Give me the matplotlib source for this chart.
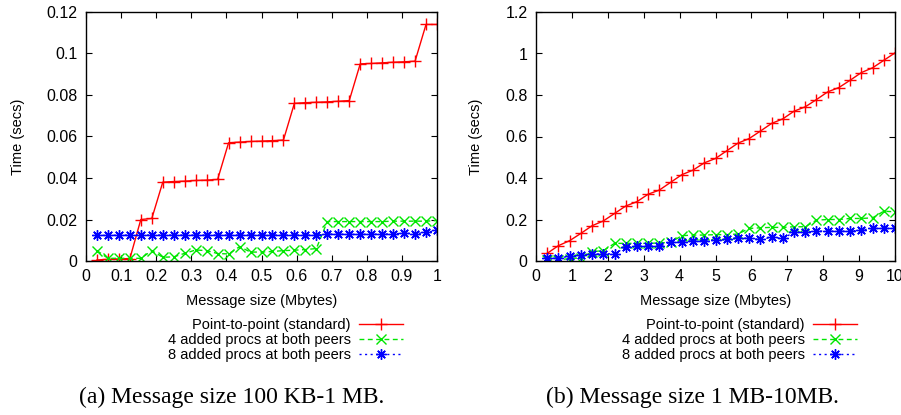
import numpy as np
import matplotlib
matplotlib.use("Agg")
import matplotlib.pyplot as plt
from matplotlib.ticker import FuncFormatter

# ---------------- data ----------------
k = np.arange(1, 33)
x_small = k / 32.0            # Mbytes, 100KB-1MB panel
x_large = k * 10.0 / 32.0     # Mbytes, 1MB-10MB panel

p2p_small = [0.0005, 0.0008, 0.0010, 0.0012, 0.0200, 0.0205, 0.0380, 0.0383,
             0.0385, 0.0388, 0.0390, 0.0393, 0.0570, 0.0573, 0.0576, 0.0578,
             0.0580, 0.0583, 0.0760, 0.0763, 0.0765, 0.0767, 0.0770, 0.0773,
             0.0950, 0.0952, 0.0955, 0.0958, 0.0960, 0.0963, 0.1140, 0.1140]
four_small = [0.0050, 0.0013, 0.0013, 0.0013, 0.0013, 0.0050, 0.0018, 0.0020,
              0.0037, 0.0053, 0.0050, 0.0036, 0.0034, 0.0069, 0.0043, 0.0043,
              0.0046, 0.0050, 0.0052, 0.0055, 0.0060, 0.0190, 0.0190, 0.0190,
              0.0190, 0.0190, 0.0190, 0.0192, 0.0192, 0.0192, 0.0192, 0.0195]
eight_small = [0.0124, 0.0123, 0.0125, 0.0125, 0.0125, 0.0125, 0.0125, 0.0125,
               0.0125, 0.0125, 0.0125, 0.0125, 0.0125, 0.0125, 0.0125, 0.0125,
               0.0125, 0.0125, 0.0125, 0.0125, 0.0125, 0.0130, 0.0130, 0.0128,
               0.0129, 0.0129, 0.0130, 0.0131, 0.0134, 0.0131, 0.0138, 0.0148]

p2p_large = [0.037, 0.074, 0.098, 0.133, 0.170, 0.193, 0.229, 0.265,
             0.286, 0.322, 0.342, 0.379, 0.416, 0.438, 0.473, 0.494,
             0.531, 0.568, 0.590, 0.626, 0.663, 0.685, 0.722, 0.743,
             0.778, 0.815, 0.836, 0.871, 0.908, 0.931, 0.967, 1.003]
four_large = [0.005, 0.005, 0.012, 0.015, 0.045, 0.050, 0.085, 0.085,
              0.085, 0.085, 0.087, 0.090, 0.122, 0.125, 0.125, 0.127,
              0.127, 0.130, 0.157, 0.160, 0.162, 0.162, 0.165, 0.165,
              0.197, 0.200, 0.200, 0.205, 0.205, 0.208, 0.240, 0.237]
eight_large = [0.013, 0.013, 0.024, 0.027, 0.034, 0.034, 0.035, 0.066,
               0.072, 0.072, 0.072, 0.090, 0.093, 0.098, 0.098, 0.100,
               0.104, 0.112, 0.109, 0.104, 0.114, 0.109, 0.138, 0.138,
               0.144, 0.144, 0.144, 0.144, 0.149, 0.157, 0.157, 0.157]

labels = ["Point-to-point (standard)",
          "4 added procs at both peers",
          "8 added procs at both peers"]
captions = ["(a) Message size 100 KB-1 MB.", "(b) Message size 1 MB-10MB."]

small_xticks = [0, 0.1, 0.2, 0.3, 0.4, 0.5, 0.6, 0.7, 0.8, 0.9, 1]
small_yticks = [0, 0.02, 0.04, 0.06, 0.08, 0.1, 0.12]
large_xticks = [0, 1, 2, 3, 4, 5, 6, 7, 8, 9, 10]
large_yticks = [0, 0.2, 0.4, 0.6, 0.8, 1, 1.2]

# ---------------- figure ----------------
W, H = 901, 415
plt.rcParams['font.family'] = ['Liberation Sans', 'DejaVu Sans']
fig = plt.figure(figsize=(W / 100, H / 100), dpi=100)

def px_axes(x0, x1, y0, y1):
    return fig.add_axes([x0 / W, 1 - y1 / H, (x1 - x0) / W, (y1 - y0) / H])

ax1 = px_axes(86, 437, 12, 261)
ax2 = px_axes(536, 895, 12, 261)

fmt = FuncFormatter(lambda v, p: "%g" % round(v, 6))

styles = [
    dict(color=(1, 0, 0), ls='-', marker='+', ms=8, mew=1.0, lw=1.0),
    dict(color=(0, 0.9, 0), ls=(0, (3.5, 2.5)), marker='x', ms=6.5, mew=1.0, lw=1.0),
    dict(color=(0, 0, 1), ls=(0, (1.5, 2.5)), marker=(8, 2, 0), ms=7.5, mew=1.0, lw=1.0),
]

panels = [
    (ax1, x_small, [p2p_small, four_small, eight_small], small_xticks, small_yticks,
     (0, 1), (0, 0.12), 351, 232, captions[0], 25),
    (ax2, x_large, [p2p_large, four_large, eight_large], large_xticks, large_yticks,
     (0, 10), (0, 1.2), 805, 692, captions[1], 483),
]

for ax, xs, ys, xt, yt, xl, yl, leg_right, cap_x, cap, ylab_x in panels:
    handles = []
    for yv, st, lab in zip(ys, styles, labels):
        h, = ax.plot(xs, yv, label=lab, clip_on=True, **st)
        handles.append(h)
    ax.set_xlim(*xl)
    ax.set_ylim(*yl)
    ax.set_xticks(xt)
    ax.set_yticks(yt)
    ax.xaxis.set_major_formatter(fmt)
    ax.yaxis.set_major_formatter(fmt)
    ax.tick_params(direction='in', length=4, width=0.8, top=True, right=True,
                   labelsize=11.5, colors='black')
    ax.tick_params(axis='x', pad=6)
    ax.tick_params(axis='y', pad=6)
    for s in ax.spines.values():
        s.set_linewidth(1.0)
    ax.set_xlabel("Message size (Mbytes)", fontsize=10.5, labelpad=7)
    ax.set_ylabel("Time (secs)", fontsize=10.5)
    x0 = ax.get_position().x0 * W
    wid = ax.get_position().width * W
    ax.yaxis.set_label_coords((ylab_x - x0) / wid, 0.5)

    leg = fig.legend(handles=handles, labels=labels, loc='center right',
                     bbox_to_anchor=((leg_right + 52) / W, 1 - 340 / H),
                     frameon=False, markerfirst=False, fontsize=10.5,
                     handlelength=3.0, handletextpad=0.6, labelspacing=0.05,
                     borderpad=0, borderaxespad=0)
    for t in leg.get_texts():
        t.set_ha('right')

    fig.text(cap_x / W, 1 - 397 / H, cap,
             ha='center', va='center', fontsize=17,
             family=['Liberation Serif', 'DejaVu Serif'])

fig.savefig("out.png", dpi=100)
